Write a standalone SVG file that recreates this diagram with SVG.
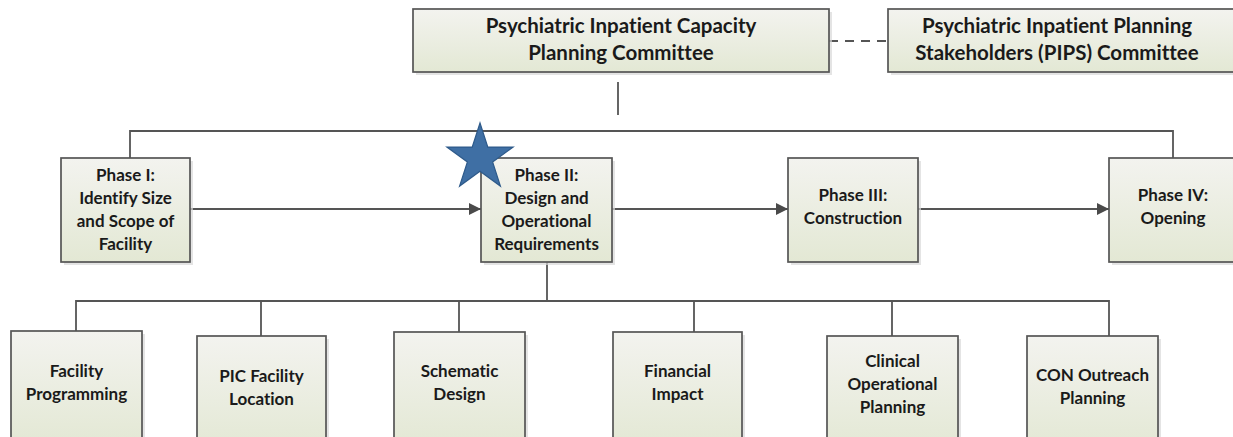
<svg xmlns="http://www.w3.org/2000/svg" width="1233" height="437" viewBox="0 0 1233 437">
  <defs>
    <linearGradient id="boxFill" x1="0" y1="0" x2="0" y2="1">
      <stop offset="0" stop-color="#F3F3EF"/>
      <stop offset="1" stop-color="#E3E8D4"/>
    </linearGradient>
    <marker id="arrow" viewBox="0 0 12 12" refX="12" refY="6" markerWidth="12" markerHeight="12" markerUnits="userSpaceOnUse" orient="auto">
      <path d="M0,0 L12,6 L0,12 Z" fill="#4a4a4a"/>
    </marker>
  </defs>
  <style>
    .box { fill: url(#boxFill); stroke: #555555; stroke-width: 1.7; }
    .shadow { fill: #d9d9d9; opacity: 0.7; }
    .line { fill: none; stroke: #555555; stroke-width: 1.8; }
    .dash { fill: none; stroke: #555555; stroke-width: 1.8; stroke-dasharray: 9 7; }
    .t { font-family: Lato, "Liberation Sans", sans-serif; font-weight: bold; fill: #1a1a1a; text-anchor: middle; font-variant-ligatures: none; }
    .big { font-size: 20.5px; }
    .sm { font-size: 17px; }
  </style>

  <!-- connectors -->
  <g id="connectors">
    <line class="dash" x1="829" y1="41" x2="888" y2="41"/>
    <line class="line" x1="618" y1="82" x2="618" y2="115"/>
    <polyline class="line" points="130,158 130,131 1173,131 1173,158"/>
    <line class="line" x1="190" y1="209" x2="481" y2="209" marker-end="url(#arrow)"/>
    <line class="line" x1="612" y1="209" x2="788" y2="209" marker-end="url(#arrow)"/>
    <line class="line" x1="918" y1="209" x2="1109" y2="209" marker-end="url(#arrow)"/>
    <line class="line" x1="547" y1="262" x2="547" y2="301"/>
    <polyline class="line" points="76,331 76,301 1109,301 1109,336"/>
    <line class="line" x1="261" y1="301" x2="261" y2="336"/>
    <line class="line" x1="459" y1="301" x2="459" y2="332"/>
    <line class="line" x1="694" y1="301" x2="694" y2="332"/>
    <line class="line" x1="892" y1="301" x2="892" y2="336"/>
  </g>

  <!-- committees -->
  <g id="capacity-committee">
    <rect class="shadow" x="416" y="12" width="416" height="63"/>
    <rect class="box" x="413" y="9" width="416" height="63"/>
    <text class="t big" x="621" y="33">Psychiatric Inpatient Capacity</text>
    <text class="t big" x="621" y="60">Planning Committee</text>
  </g>
  <g id="pips-committee">
    <rect class="shadow" x="891" y="12" width="350" height="63"/>
    <rect class="box" x="888" y="9" width="350" height="63"/>
    <text class="t big" x="1057" y="33">Psychiatric Inpatient Planning</text>
    <text class="t big" x="1057" y="60">Stakeholders (PIPS) Committee</text>
  </g>

  <!-- phases -->
  <g id="phase-1">
    <rect class="shadow" x="64" y="161" width="129" height="104"/>
    <rect class="box" x="61" y="158" width="129" height="104"/>
    <text class="t sm" x="125.5" y="181">Phase I:</text>
    <text class="t sm" x="125.5" y="204">Identify Size</text>
    <text class="t sm" x="125.5" y="227">and Scope of</text>
    <text class="t sm" x="125.5" y="250">Facility</text>
  </g>
  <g id="phase-2">
    <rect class="shadow" x="484" y="161" width="131" height="104"/>
    <rect class="box" x="481" y="158" width="131" height="104"/>
    <text class="t sm" x="546.5" y="181">Phase II:</text>
    <text class="t sm" x="546.5" y="204">Design and</text>
    <text class="t sm" x="546.5" y="227">Operational</text>
    <text class="t sm" x="546.5" y="250">Requirements</text>
  </g>
  <g id="phase-3">
    <rect class="shadow" x="791" y="161" width="130" height="104"/>
    <rect class="box" x="788" y="158" width="130" height="104"/>
    <text class="t sm" x="853" y="201">Phase III:</text>
    <text class="t sm" x="853" y="224">Construction</text>
  </g>
  <g id="phase-4">
    <rect class="shadow" x="1112" y="161" width="130" height="104"/>
    <rect class="box" x="1109" y="158" width="130" height="104"/>
    <text class="t sm" x="1173" y="201">Phase IV:</text>
    <text class="t sm" x="1173" y="224">Opening</text>
  </g>

  <!-- current-phase marker -->
  <g id="star">
    <polygon points="480,123 487.8,147.1 513.1,147.1 492.6,162 500.4,186.1 480,171.2 459.6,186.1 467.4,162 446.9,147.1 472.2,147.1" fill="#3F6FA4" stroke="#2E5A8A" stroke-width="1.2" stroke-linejoin="miter"/>
  </g>

  <!-- phase II workstreams -->
  <g id="facility-programming">
    <rect class="shadow" x="14" y="334" width="131" height="115"/>
    <rect class="box" x="11" y="331" width="131" height="115"/>
    <text class="t sm" x="76.5" y="377">Facility</text>
    <text class="t sm" x="76.5" y="400">Programming</text>
  </g>
  <g id="pic-facility-location">
    <rect class="shadow" x="200" y="339" width="129" height="115"/>
    <rect class="box" x="197" y="336" width="129" height="115"/>
    <text class="t sm" x="261.5" y="382">PIC Facility</text>
    <text class="t sm" x="261.5" y="405">Location</text>
  </g>
  <g id="schematic-design">
    <rect class="shadow" x="397" y="335" width="131" height="115"/>
    <rect class="box" x="394" y="332" width="131" height="115"/>
    <text class="t sm" x="459.5" y="377">Schematic</text>
    <text class="t sm" x="459.5" y="400">Design</text>
  </g>
  <g id="financial-impact">
    <rect class="shadow" x="616" y="335" width="129" height="115"/>
    <rect class="box" x="613" y="332" width="129" height="115"/>
    <text class="t sm" x="677.5" y="377">Financial</text>
    <text class="t sm" x="677.5" y="400">Impact</text>
  </g>
  <g id="clinical-operational-planning">
    <rect class="shadow" x="830" y="339" width="131" height="115"/>
    <rect class="box" x="827" y="336" width="131" height="115"/>
    <text class="t sm" x="892.5" y="367">Clinical</text>
    <text class="t sm" x="892.5" y="390">Operational</text>
    <text class="t sm" x="892.5" y="413">Planning</text>
  </g>
  <g id="con-outreach-planning">
    <rect class="shadow" x="1030" y="339" width="131" height="115"/>
    <rect class="box" x="1027" y="336" width="131" height="115"/>
    <text class="t sm" x="1092.5" y="381">CON Outreach</text>
    <text class="t sm" x="1092.5" y="404">Planning</text>
  </g>
</svg>
